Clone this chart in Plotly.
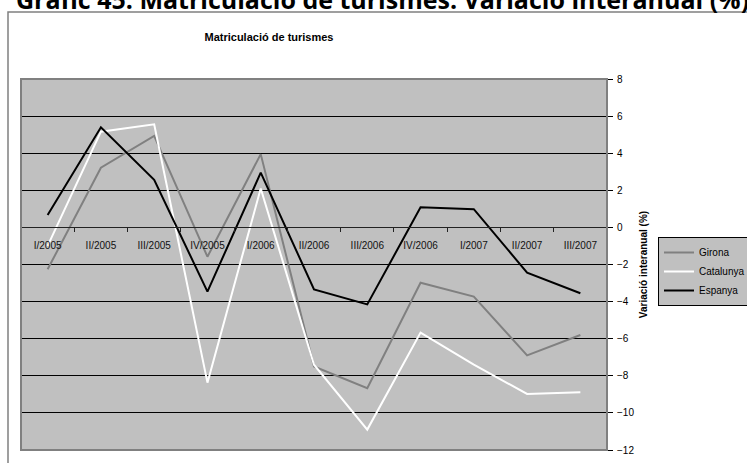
import plotly.graph_objects as go

categories = ["I/2005", "II/2005", "III/2005", "IV/2005", "I/2006", "II/2006",
              "III/2006", "IV/2006", "I/2007", "II/2007", "III/2007"]
girona = [-2.26, 3.22, 4.93, -1.58, 3.95, -7.5, -8.67, -2.98, -3.73, -6.9, -5.8]
catalunya = [-1.0, 5.16, 5.56, -8.37, 2.1, -7.4, -10.9, -5.67, -7.4, -8.98, -8.89]
espanya = [0.67, 5.4, 2.56, -3.46, 2.95, -3.34, -4.15, 1.08, 0.98, -2.44, -3.55]
y_ticks = list(range(-12, 9, 2))

W, H = 747, 463
L, R, T, B = 21, 607, 79, 450  # plot area pixels
pw, ph = R - L, B - T

def px_x(x):
    return (x - L) / pw

def px_y(y):
    return (B - y) / ph

fig = go.Figure()
fig.add_trace(go.Scatter(x=categories, y=girona, name="Girona", mode="lines",
                         line=dict(color="#808080", width=2)))
fig.add_trace(go.Scatter(x=categories, y=catalunya, name="Catalunya", mode="lines",
                         line=dict(color="#ffffff", width=2)))
fig.add_trace(go.Scatter(x=categories, y=espanya, name="Espanya", mode="lines",
                         line=dict(color="#000000", width=2)))

font = "Liberation Sans"
fig.update_layout(
    template="none",
    width=W, height=H,
    margin=dict(l=L, r=W - R, t=T, b=H - B, pad=0, autoexpand=False),
    paper_bgcolor="white",
    plot_bgcolor="#C0C0C0",
    font=dict(family=font, size=10, color="black"),
    title=dict(text="<b>Matriculació de turismes</b>", x=px_x(269), xref="paper",
               xanchor="center", y=1 - 37 / H, yref="container", yanchor="middle",
               font=dict(family=font, size=11, color="black")),
    legend=dict(x=px_x(658), y=px_y(237), xanchor="left", yanchor="top",
                bgcolor="#C0C0C0", bordercolor="black", borderwidth=1,
                font=dict(family=font, size=10, color="black"),
                itemwidth=30, tracegroupgap=0),
    showlegend=True,
)
fig.update_xaxes(
    type="category", anchor="free", position=12 / 20, side="bottom",
    showline=True, linecolor="#222222", linewidth=1, automargin=False,
    ticks="outside", tickson="boundaries", ticklen=4, tickcolor="#222222",
    ticklabelstandoff=9,
    showgrid=False, tickfont=dict(family=font, size=10, color="#111111"),
    range=[-0.5, len(categories) - 0.5], zeroline=False,
)
fig.update_yaxes(
    side="right", range=[-12, 8], tickvals=y_ticks, automargin=False,
    showline=True, linecolor="black", linewidth=1, mirror=False,
    ticks="outside", ticklen=5, tickcolor="black", ticklabelstandoff=2,
    showgrid=True, gridcolor="#000000", gridwidth=1, zeroline=False,
    tickfont=dict(family=font, size=10, color="black"),
    title=dict(text="<b>Variació interanual (%)</b>", standoff=6,
               font=dict(family=font, size=10, color="black")),
)

# plot area border (gray)
fig.add_shape(type="rect", xref="paper", yref="paper", x0=0, y0=0, x1=1, y1=1,
              line=dict(color="#808080", width=2), layer="above")
# outer chart border
fig.add_shape(type="rect", xref="paper", yref="paper",
              x0=px_x(8), y0=px_y(475), x1=px_x(765), y1=px_y(12),
              line=dict(color="#808080", width=1.5), layer="below")
# header caption
fig.add_annotation(text="<b>Gràfic 45: Matriculació de turismes. Variació interanual (%)</b>",
                   xref="paper", yref="paper", x=px_x(14), y=px_y(-1),
                   xanchor="left", yanchor="middle", showarrow=False,
                   font=dict(family="Open Sans", size=25, color="black"))

fig.write_html("out.html", config={"displayModeBar": False},
               post_script="document.body.style.margin='0';")
